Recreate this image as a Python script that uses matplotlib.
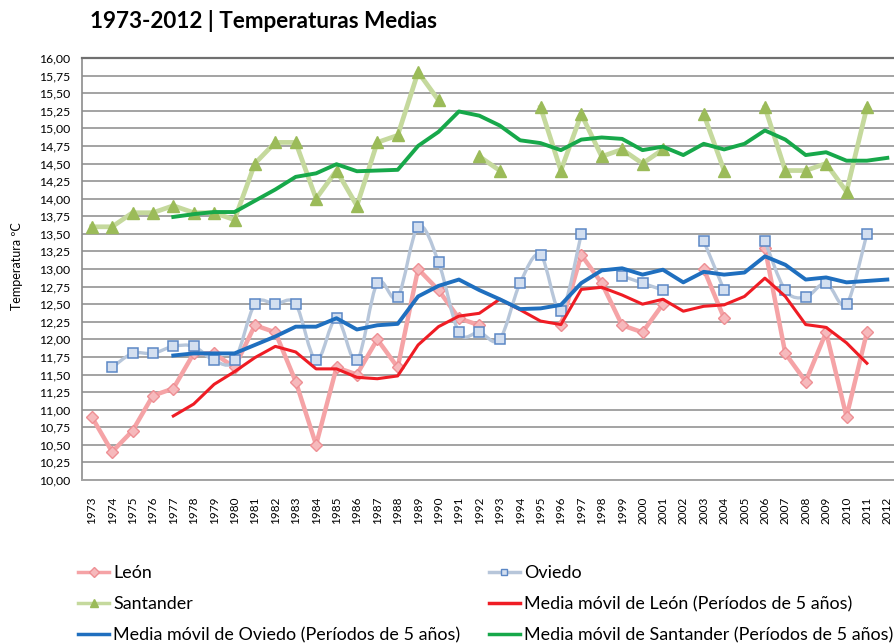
import numpy as np
import matplotlib
matplotlib.use("Agg")
import matplotlib.pyplot as plt
from matplotlib.path import Path
from matplotlib.patches import PathPatch
from matplotlib.lines import Line2D
from matplotlib.ticker import MultipleLocator, FuncFormatter

plt.rcParams['font.family'] = ['Lato', 'DejaVu Sans']

N = np.nan
years = list(range(1973, 2013))

# temperaturas medias anuales (ºC)
leon = [10.9, 10.4, 10.7, 11.2, 11.3, 11.8, 11.8, 11.6, 12.2, 12.1,
        11.4, 10.5, 11.6, 11.5, 12.0, 11.6, 13.0, 12.7, 12.3, 12.2,
        N, N, N, 12.2, 13.2, 12.8, 12.2, 12.1, 12.5, N,
        13.0, 12.3, N, 13.3, 11.8, 11.4, 12.1, 10.9, 12.1, N]
oviedo = [N, 11.6, 11.8, 11.8, 11.9, 11.9, 11.7, 11.7, 12.5, 12.5,
          12.5, 11.7, 12.3, 11.7, 12.8, 12.6, 13.6, 13.1, 12.1, 12.1,
          12.0, 12.8, 13.2, 12.4, 13.5, N, 12.9, 12.8, 12.7, N,
          13.4, 12.7, N, 13.4, 12.7, 12.6, 12.8, 12.5, 13.5, N]
santander = [13.6, 13.6, 13.8, 13.8, 13.9, 13.8, 13.8, 13.7, 14.5, 14.8,
             14.8, 14.0, 14.4, 13.9, 14.8, 14.9, 15.8, 15.4, N, 14.6,
             14.4, N, 15.3, 14.4, 15.2, 14.6, 14.7, 14.5, 14.7, N,
             15.2, 14.4, N, 15.3, 14.4, 14.4, 14.5, 14.1, 15.3, N]

# medias móviles (periodos de 5 años)
ma_leon = [N, N, N, N, 10.91, 11.08, 11.36, 11.54, 11.74, 11.90,
           11.82, 11.58, 11.58, 11.46, 11.44, 11.48, 11.92, 12.18, 12.33, 12.37,
           12.57, 12.42, 12.26, 12.21, 12.71, 12.74, 12.63, 12.50, 12.57, 12.40,
           12.47, 12.49, 12.61, 12.87, 12.61, 12.21, 12.17, 11.95, 11.66, N]
ma_oviedo = [N, N, N, N, 11.77, 11.80, 11.80, 11.80, 11.92, 12.04,
             12.18, 12.18, 12.30, 12.14, 12.20, 12.22, 12.61, 12.76, 12.85, 12.70,
             12.57, 12.43, 12.44, 12.49, 12.80, 12.98, 13.01, 12.92, 12.99, 12.81,
             12.96, 12.92, 12.95, 13.18, 13.06, 12.85, 12.88, 12.81, 12.83, 12.85]
ma_santander = [N, N, N, N, 13.74, 13.78, 13.81, 13.81, 13.97, 14.13,
                14.31, 14.36, 14.49, 14.39, 14.40, 14.41, 14.75, 14.95, 15.24, 15.18,
                15.04, 14.83, 14.79, 14.69, 14.84, 14.87, 14.85, 14.69, 14.74, 14.62,
                14.78, 14.70, 14.78, 14.97, 14.84, 14.62, 14.66, 14.54, 14.54, 14.58]


def smooth_path(xs, ys):
    # linea suavizada tipo Excel (Catmull-Rom -> Bezier), cortada en huecos
    runs, cur = [], []
    for x, y in zip(xs, ys):
        if np.isnan(y):
            if cur:
                runs.append(cur)
            cur = []
        else:
            cur.append((x, y))
    if cur:
        runs.append(cur)
    verts, codes = [], []
    for run in runs:
        if len(run) < 2:
            continue
        p = np.array(run, float)
        verts.append(p[0])
        codes.append(Path.MOVETO)
        for i in range(len(p) - 1):
            p0 = p[i - 1] if i > 0 else p[i]
            p1, p2 = p[i], p[i + 1]
            p3 = p[i + 2] if i + 2 < len(p) else p[i + 1]
            verts += [p1 + (p2 - p0) / 6, p2 - (p3 - p1) / 6, p2]
            codes += [Path.CURVE4] * 3
    return Path(verts, codes)


x = np.arange(len(years))

fig = plt.figure(figsize=(8.94, 6.43), dpi=100)
ax = fig.add_axes([81.5 / 894, 1 - 480 / 643, 816 / 894, 422 / 643])

c_leon_l, c_leon_m = '#f5a3a6', '#ee8f94'
c_ovi_l, c_ovi_m = '#b7c6da', '#5b87c5'
c_san_l, c_san_m = '#c5d99d', '#9bbb59'

ax.plot(x, leon, color=c_leon_l, lw=3.2, marker='D', ms=6, mfc='#f6b9bc',
        mec=c_leon_m, mew=1.0, zorder=3)
ax.add_patch(PathPatch(smooth_path(x, oviedo), fill=False, edgecolor=c_ovi_l,
                       lw=2.4, zorder=3))
ax.plot(x, oviedo, ls='none', marker='s', ms=6.5, mfc='#d3dff0', mec=c_ovi_m,
        mew=1.1, zorder=4)
ax.plot(x, santander, color=c_san_l, lw=3.4, marker='^', ms=8, mfc=c_san_m,
        mec=c_san_m, zorder=3)

ax.plot(x, ma_leon, color='#ef1c24', lw=2.2, zorder=5)
ax.plot(x, ma_oviedo, color='#1f6fbf', lw=2.8, zorder=5)
ax.plot(x, ma_santander, color='#17a84a', lw=2.8, zorder=5)

ax.set_xlim(-0.5, len(years) - 0.5)
ax.set_ylim(10, 16)
ax.yaxis.set_major_locator(MultipleLocator(0.25))
ax.yaxis.set_major_formatter(FuncFormatter(lambda v, p: f"{v:.2f}".replace('.', ',')))
ax.set_xticks(x)
ax.set_xticklabels([str(y) for y in years], rotation=90, fontsize=8.5)
ax.tick_params(axis='y', labelsize=8.8, length=0, pad=8)
ax.tick_params(axis='x', length=0, pad=12)
ax.grid(axis='y', color='#a3a3a3', lw=1.4)
ax.set_axisbelow(True)
ax.spines['right'].set_visible(False)
ax.spines['top'].set_color('#707070')
ax.spines['top'].set_linewidth(1.6)
ax.spines['left'].set_color('#8c8c8c')
ax.spines['left'].set_linewidth(1.2)
ax.spines['bottom'].set_color('#a3a3a3')
ax.spines['bottom'].set_linewidth(1.4)

fig.text(17 / 894, 1 - 266 / 643, 'Temperatura ºC', rotation=90, fontsize=9,
         ha='center', va='center')
fig.text(90 / 894, 1 - 21 / 643, '1973-2012 | Temperaturas Medias', fontsize=16.2,
         fontweight='bold', ha='left', va='center')

h_leon = Line2D([], [], color=c_leon_l, lw=2.5, marker='D', ms=5, mfc='#f6b9bc', mec=c_leon_m)
h_ovi = Line2D([], [], color=c_ovi_l, lw=2.5, marker='s', ms=5, mfc='#d3dff0', mec=c_ovi_m)
h_san = Line2D([], [], color=c_san_l, lw=2.5, marker='^', ms=6, mfc=c_san_m, mec=c_san_m)
h_mal = Line2D([], [], color='#ef1c24', lw=2.5)
h_mao = Line2D([], [], color='#1f6fbf', lw=2.5)
h_mas = Line2D([], [], color='#17a84a', lw=2.5)

handles = [h_leon, h_san, h_mao, h_ovi, h_mal, h_mas]
labels = ['León', 'Santander', 'Media móvil de Oviedo (Períodos de 5 años)',
          'Oviedo', 'Media móvil de León (Períodos de 5 años)',
          'Media móvil de Santander (Períodos de 5 años)']
fig.legend(handles, labels, ncol=2, loc='upper left',
           bbox_to_anchor=(78 / 894, 1 - 565 / 643), frameon=False,
           fontsize=12.9, handlelength=1.75, handletextpad=0.2,
           columnspacing=1.6, labelspacing=0.85, borderpad=0, borderaxespad=0)

fig.savefig('out.png', dpi=100)
